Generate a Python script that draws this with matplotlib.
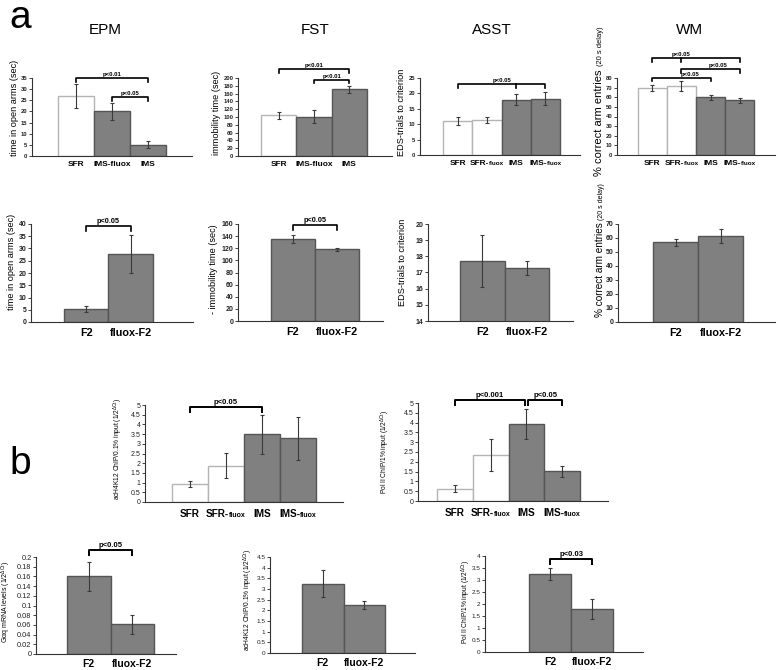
import matplotlib
matplotlib.use('Agg')
import matplotlib.pyplot as plt
import numpy as np
from matplotlib.offsetbox import TextArea, HPacker, AnnotationBbox

plt.rcParams['font.family'] = ['Liberation Sans', 'DejaVu Sans']
plt.rcParams['mathtext.fontset'] = 'custom'
plt.rcParams['mathtext.rm'] = 'Liberation Sans'
plt.rcParams['mathtext.it'] = 'Liberation Sans:italic'
plt.rcParams['mathtext.bf'] = 'Liberation Sans:bold'

W, H = 778, 670
fig = plt.figure(figsize=(W / 100, H / 100), dpi=100)

# ---------------- data ----------------
# panel a, top row
epm_labels = ["SFR", "IMS-fluox", "IMS"]
epm_means = [27, 20, 5]
epm_errs = [5.5, 4.0, 1.6]
epm_fill = ["w", "g", "g"]

fst_labels = ["SFR", "IMS-fluox", "IMS"]
fst_means = [104, 101, 171]
fst_errs = [9, 17, 8.5]
fst_fill = ["w", "g", "g"]

asst_labels = ["SFR", "SFR-|fluox", "IMS", "IMS-|fluox"]
asst_means = [10.9, 11.4, 18.0, 18.3]
asst_errs = [1.3, 1.0, 1.9, 2.2]
asst_fill = ["w", "w", "g", "g"]

wm_labels = ["SFR", "SFR-|fluox", "IMS", "IMS-|fluox"]
wm_means = [69.8, 71.5, 59.8, 57.0]
wm_errs = [3.4, 5.0, 2.8, 2.7]
wm_fill = ["w", "w", "g", "g"]

# panel a, bottom row (F2)
f2_labels = ["F2", "fluox-F2"]
epm2_means = [5.3, 27.8]
epm2_errs = [1.4, 7.8]
fst2_means = [135, 118]
fst2_errs = [6.6, 2.2]
asst2_means = [17.72, 17.28]
asst2_errs = [1.6, 0.42]
wm2_means = [57.0, 61.3]
wm2_errs = [2.4, 5.0]

# panel b
b_labels = ["SFR", "SFR-|fluox", "IMS", "IMS-|fluox"]
ac_means = [0.93, 1.88, 3.49, 3.28]
ac_errs = [0.17, 0.64, 1.0, 1.1]
pol_means = [0.63, 2.34, 3.93, 1.52]
pol_errs = [0.19, 0.8, 0.77, 0.28]
gaq_means = [0.16, 0.061]
gaq_errs = [0.03, 0.02]
ac2_means = [3.25, 2.23]
ac2_errs = [0.62, 0.19]
pol2_means = [3.24, 1.78]
pol2_errs = [0.24, 0.41]
b_fill4 = ["w", "w", "g", "g"]
fill2 = ["g", "g"]

# significance brackets: (start, end, level, text, extra_ticks, text_x)
epm_br = [(0, 2, 35, "p<0.01", [], None), (1, 2, 26.5, "p<0.05", [], None)]
fst_br = [(0, 2, 223, "p<0.01", [], None), (1, 2, 196, "p<0.01", [], None)]
asst_br = [(0, 3, 23, "p<0.05", [2], None)]
wm_br = [(0, 3, 101, "p<0.05", [1], 1.0), (1, 3, 89.7, "p<0.05", [], 2.25),
         (0, 2, 80.4, "p<0.05", [], 1.3)]
epm2_br = [(0, 1, 39, "p<0.05", [], None)]
fst2_br = [(0, 1, 158, "p<0.05", [], None)]
ac_br = [(0, 2, 4.91, "p<0.05", [], None)]
pol_br = [(0, 1.97, 5.14, "p<0.001", [], None), (2.05, 3, 5.14, "p<0.05", [], None)]
gaq_br = [(0, 1, 0.215, "p<0.05", [], None)]
pol2_br = [(0, 1, 3.86, "p<0.03", [], None)]

WHITE_EDGE = "#b4b4b4"
GRAY_FACE = "#808080"
GRAY_EDGE = "#555555"


def make_axes(x0, x1, yt, yb):
    return fig.add_axes([x0 / W, 1 - yb / H, (x1 - x0) / W, (yb - yt) / H])


def xlab(ax, i, label, size, small, off):
    if "|" in label:
        a, b = label.split("|")
        kids = [TextArea(a, textprops=dict(size=size, weight="bold")),
                TextArea(b, textprops=dict(size=small, weight="bold"))]
    else:
        kids = [TextArea(label, textprops=dict(size=size, weight="bold"))]
    box = HPacker(children=kids, align="baseline", pad=0, sep=0)
    ab = AnnotationBbox(box, (i, 0), xycoords=("data", "axes fraction"),
                        xybox=(0, -off), boxcoords="offset points",
                        box_alignment=(0.5, 1), frameon=False,
                        annotation_clip=False, pad=0)
    ax.add_artist(ab)


def panel(rect, labels, means, errs, fills, ylim, ystep, pads, brackets,
          xsize, xsmall, xoff, tsize, tbold, psize, blw=1.2):
    ax = make_axes(*rect)
    n = len(means)
    x = np.arange(n)
    fc = ["white" if f == "w" else GRAY_FACE for f in fills]
    ec = [WHITE_EDGE if f == "w" else GRAY_EDGE for f in fills]
    ax.bar(x, means, width=1.0, color=fc, edgecolor=ec, linewidth=1.0, zorder=2)
    ax.errorbar(x, means, yerr=errs, fmt="none", ecolor="#3a3a3a",
                elinewidth=0.8, capsize=1.6, capthick=0.8, zorder=3)
    ax.set_xlim(-0.5 - pads[0], n - 0.5 + pads[1])
    ax.set_ylim(*ylim)
    ticks = np.arange(ylim[0], ylim[1] + ystep / 2, ystep)
    ax.set_yticks(ticks)
    ax.set_yticklabels(["%g" % round(t, 4) for t in ticks], fontsize=tsize,
                       fontweight="bold" if tbold else "normal")
    ax.set_xticks([])
    for s in ["top", "right"]:
        ax.spines[s].set_visible(False)
    for s in ["left", "bottom"]:
        ax.spines[s].set_color("#333333")
        ax.spines[s].set_linewidth(0.8)
    ax.tick_params(axis="y", direction="out", length=2, width=0.6, pad=1.2,
                   colors="#222222")
    ax.patch.set_visible(False)
    for i, lab in enumerate(labels):
        xlab(ax, i, lab, xsize, xsmall, xoff)
    rng = ylim[1] - ylim[0]
    tick = 0.05 * rng
    for (a, b, lev, txt, extra, tx) in brackets:
        ax.plot([a, a, b, b], [lev - tick, lev, lev, lev - tick], color="black",
                lw=blw, clip_on=False, zorder=4)
        for e in extra:
            ax.plot([e, e], [lev, lev - tick], color="black", lw=blw,
                    clip_on=False, zorder=4)
        cx = (a + b) / 2 if tx is None else tx
        ax.text(cx, lev + 0.012 * rng, txt, ha="center", va="bottom",
                fontsize=psize, fontweight="bold", clip_on=False)
    return ax


# ---- panel a, top row ----
panel((32, 192, 78, 156), epm_labels, epm_means, epm_errs, epm_fill, (0, 35), 5,
      (0.72, 0.72), epm_br, 6, 6, 3.6, 4.2, True, 4.3)
panel((238, 392, 78, 156), fst_labels, fst_means, fst_errs, fst_fill, (0, 200), 20,
      (0.65, 0.71), fst_br, 6, 6, 3.6, 4.2, True, 4.3)
panel((420, 580, 78, 155), asst_labels, asst_means, asst_errs, asst_fill, (0, 25), 5,
      (0.79, 0.68), asst_br, 6, 4.5, 3.6, 4.2, True, 4.3)
panel((617, 775, 78, 155), wm_labels, wm_means, wm_errs, wm_fill, (0, 80), 10,
      (0.72, 0.72), wm_br, 6, 4.5, 3.6, 4.2, True, 4.3)

# ---- panel a, bottom row ----
panel((31, 193, 224, 322), f2_labels, epm2_means, epm2_errs, fill2, (0, 40), 5,
      (0.74, 0.9), epm2_br, 7.8, 7.8, 4.5, 5, True, 5.3)
panel((238, 383, 224, 321), f2_labels, fst2_means, fst2_errs, fill2, (0, 160), 20,
      (0.75, 0.55), fst2_br, 7.8, 7.8, 4.5, 5, True, 5.3)
panel((428, 573, 224, 321), f2_labels, asst2_means, asst2_errs, fill2, (14, 20), 1,
      (0.72, 0.54), [], 7.8, 7.8, 4.5, 5, True, 5.3)
panel((618, 775, 224, 322), f2_labels, wm2_means, wm2_errs, fill2, (0, 70), 10,
      (0.78, 0.71), [], 7.8, 7.8, 4.5, 5, True, 5.3)

# ---- panel b ----
panel((145, 343, 405, 502), b_labels, ac_means, ac_errs, b_fill4, (0, 5), 0.5,
      (0.75, 0.75), ac_br, 7.2, 5, 5.0, 5, False, 5.5, blw=1.4)
panel((418, 608, 403, 501), b_labels, pol_means, pol_errs, b_fill4, (0, 5), 0.5,
      (0.53, 0.78), pol_br, 7.2, 5, 5.0, 5, False, 5.5, blw=1.4)
panel((36, 176, 557, 654), f2_labels, gaq_means, gaq_errs, fill2, (0, 0.2), 0.02,
      (0.71, 0.5), gaq_br, 7.5, 7.5, 3.5, 5.3, False, 5.5, blw=1.4)
panel((270, 415, 557, 653), f2_labels, ac2_means, ac2_errs, fill2, (0, 4.5), 0.5,
      (0.77, 0.72), [], 7.5, 7.5, 3.5, 4.6, False, 5.5, blw=1.4)
panel((485, 643, 556, 652), f2_labels, pol2_means, pol2_errs, fill2, (0, 4), 0.5,
      (1.05, 0.71), pol2_br, 7.5, 7.5, 3.5, 4.6, False, 5.5, blw=1.4)


# ---------------- labels / titles ----------------
def ftext(px, py, s, **kw):
    return fig.text(px / W, 1 - py / H, s, **kw)


ftext(20, 28, "a", fontsize=28, ha="center", va="baseline")
ftext(20, 474, "b", fontsize=28, ha="center", va="baseline")

for cx, t in [(105, "EPM"), (315, "FST"), (492, "ASST"), (690, "WM")]:
    ftext(cx, 30, t, fontsize=11, ha="center", va="center")

ylab_kw = dict(rotation=90, ha="center", va="center")
ftext(15, 108, "time in open arms (sec)", fontsize=6.6, **ylab_kw)
ftext(217, 113, "immobility time (sec)", fontsize=6.6, **ylab_kw)
ftext(401, 112, "EDS-trials to criterion", fontsize=6.6, **ylab_kw)
ftext(12, 262, "time in open arms (sec)", fontsize=6.6, **ylab_kw)
ftext(214, 269, "- immobility time (sec)", fontsize=6.6, **ylab_kw)
ftext(403, 262, "EDS-trials to criterion", fontsize=6.6, **ylab_kw)

dct = r"$^{\mathregular{\Delta Ct}}$"
ftext(118, 449, "acH4K12 ChIP/0.1% input (1/2" + dct + ")", fontsize=4.8, **ylab_kw)
ftext(385, 452, "Pol II ChIP/1% input (1/2" + dct + ")", fontsize=4.8, **ylab_kw)
ftext(6, 602, "G\u03b1q mRNA levels (1/2" + dct + ")", fontsize=5, **ylab_kw)
ftext(248, 600, "acH4K12 ChIP/0.1% input (1/2" + dct + ")", fontsize=4.8, **ylab_kw)
ftext(466, 602, "Pol II ChIP/1% input (1/2" + dct + ")", fontsize=4.8, **ylab_kw)

# WM labels with smaller "(20 s delay)"
fig.canvas.draw()
renderer = fig.canvas.get_renderer()
for bx, by, big, small in [(602, 176, 8.0, 5.4), (603, 317, 7.2, 5.0)]:
    t1 = ftext(bx, by, "% correct arm entries ", fontsize=big, rotation=90,
               rotation_mode="anchor", ha="left", va="baseline")
    ext = t1.get_window_extent(renderer)
    top_px = by - ext.height
    ftext(bx, top_px, "(20 s delay)", fontsize=small, rotation=90,
          rotation_mode="anchor", ha="left", va="baseline")

fig.savefig("out.png", dpi=100)
